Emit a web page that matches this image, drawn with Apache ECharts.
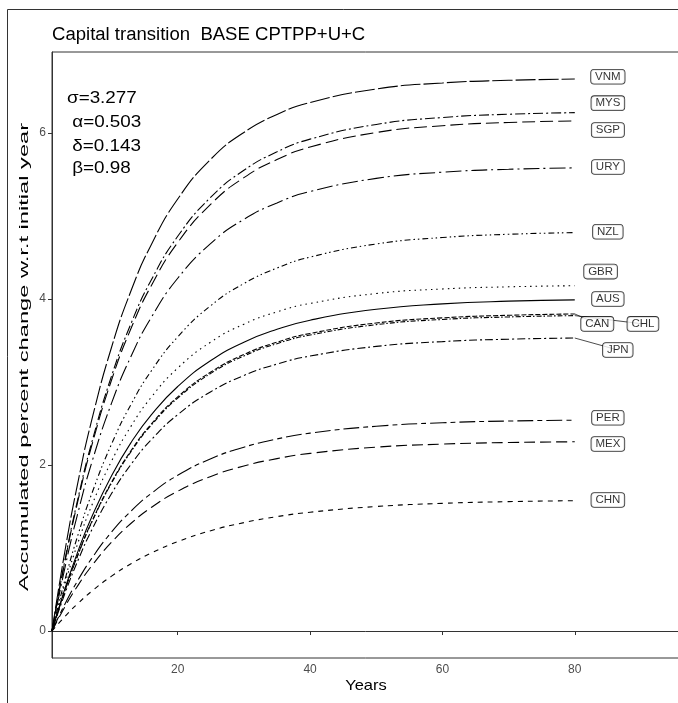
<!DOCTYPE html>
<html><head><meta charset="utf-8">
<script src="https://cdn.jsdelivr.net/npm/echarts@6/dist/echarts.min.js"></script>
<style>html,body{margin:0;padding:0;background:#fff}#c{width:678px;height:703px}</style>
</head><body><div id="c"></div>
<script>
const years = [1,3,5,7,10,13,16,20,25,30,35,40,50,60,70,80];
const countries = ['VNM','MYS','SGP','URY','NZL','GBR','AUS','CAN','CHL','JPN','PER','MEX','CHN'];
const VNM = [0,0.985,1.825,2.540,3.419,4.111,4.655,5.205,5.685,6.007,6.223,6.368,6.530,6.603,6.635,6.65];
const MYS = [0,0.872,1.623,2.269,3.073,3.716,4.229,4.756,5.227,5.551,5.773,5.926,6.103,6.187,6.226,6.245];
const SGP = [0,0.858,1.597,2.233,3.024,3.656,4.161,4.680,5.143,5.462,5.680,5.831,6.006,6.088,6.127,6.145];
const URY = [0,0.780,1.450,2.028,2.746,3.320,3.778,4.250,4.670,4.960,5.158,5.295,5.453,5.528,5.563,5.58];
const NZL = [0,0.629,1.177,1.653,2.252,2.739,3.133,3.544,3.921,4.186,4.373,4.505,4.663,4.741,4.780,4.80];
const GBR = [0,0.581,1.081,1.512,2.047,2.475,2.817,3.168,3.482,3.697,3.845,3.947,4.066,4.121,4.147,4.16];
const AUS = [0,0.523,0.978,1.374,1.872,2.277,2.604,2.946,3.259,3.480,3.635,3.745,3.876,3.941,3.974,3.99];
const CAN = [0,0.501,0.937,1.315,1.792,2.179,2.493,2.821,3.120,3.332,3.480,3.585,3.711,3.773,3.804,3.82];
const CHL = [0,0.498,0.932,1.309,1.783,2.168,2.480,2.806,3.104,3.314,3.462,3.566,3.691,3.754,3.784,3.80];
const JPN = [0,0.463,0.865,1.216,1.656,2.014,2.304,2.607,2.883,3.079,3.216,3.313,3.429,3.487,3.516,3.53];
const PER = [0,0.333,0.623,0.875,1.192,1.449,1.658,1.876,2.075,2.215,2.314,2.384,2.467,2.509,2.530,2.54];
const MEX = [0,0.299,0.559,0.785,1.070,1.301,1.488,1.684,1.862,1.988,2.077,2.140,2.215,2.252,2.271,2.28];
const CHN = [0,0.179,0.338,0.479,0.661,0.813,0.940,1.077,1.209,1.306,1.378,1.431,1.500,1.538,1.559,1.57];
const xTicks = [20,40,60,80];
const yTicks = [0,2,4,6];
const labelX = [85.0,85.0,85.0,85.0,85.0,83.9,85.0,83.4,90.3,86.5,85.0,85.0,85.0];
const labelY = [6.678,6.36,6.036,5.59,4.81,4.33,4.0,3.70,3.70,3.386,2.57,2.253,1.578];
const leaders = ['CAN','CHL','JPN'];
const titleText = 'Capital transition  BASE CPTPP+U+C';
const paramText = ['σ=3.277',' α=0.503',' δ=0.143',' β=0.98'];

const seriesData = {VNM,MYS,SGP,URY,NZL,GBR,AUS,CAN,CHL,JPN,PER,MEX,CHN};
const dash = {
  VNM:[20,3], MYS:[10,3,2,3], SGP:[13,5], URY:[16,4,2,4], NZL:[6,3,1.5,3,1.5,3],
  GBR:[1.5,4], AUS:'solid', CAN:[5,2], CHL:[1.5,2,5,2], JPN:[8,3,2,3],
  PER:[16,4,5,4], MEX:[11,5], CHN:[5,5]
};
const FONT = '"Liberation Sans", Arial, sans-serif';

const series = countries.map(c => ({
  type:'line', name:c, showSymbol:false, smooth:0.5,
  data: years.map((y,i)=>[y, seriesData[c][i]]),
  lineStyle:{color:'#000', width:1.1, type:dash[c]}, silent:true, z:2
}));
series.push({
  type:'lines', coordinateSystem:'cartesian2d', z:3, silent:true,
  lineStyle:{color:'#000', width:0.7, opacity:1},
  data: leaders.map(c => {
    const i = countries.indexOf(c);
    const d = seriesData[c];
    return {coords:[[years[years.length-1], d[d.length-1]],[labelX[i], labelY[i]]]};
  })
});
series.push({
  type:'scatter', z:5, symbolSize:1, silent:true,
  itemStyle:{color:'rgba(0,0,0,0)'},
  data: countries.map((c,i)=>({name:c, value:[labelX[i], labelY[i]]})),
  label:{show:true, position:'inside', formatter:'{b}', color:'#000', fontFamily:FONT,
    fontSize:11.5, backgroundColor:'#fff', borderColor:'#000', borderWidth:0.8,
    borderRadius:3, padding:[1,4,1,4]}
});

const graphic = [
  {type:'rect', shape:{x:7.5, y:9.5, width:800, height:800}, style:{fill:null, stroke:'#333', lineWidth:1}, z:0, silent:true},
  {type:'text', x:52, y:35, scaleX:1.03, style:{text:titleText, font:'18px '+FONT, fill:'#000', textVerticalAlign:'middle'}},
  {type:'text', x:24, y:357, rotation:Math.PI/2, scaleX:1.82, style:{text:'Accumulated percent change w.r.t initial year', font:'13px '+FONT, fill:'#000', textAlign:'center', textVerticalAlign:'middle'}},
  {type:'text', x:366, y:686, scaleX:1.1, style:{text:'Years', font:'15px '+FONT, fill:'#000', textAlign:'center', textVerticalAlign:'middle'}}
];
const pY = [98,122,146,168];
paramText.forEach((t,i)=>graphic.push({type:'text', x:67, y:pY[i], scaleX:1.15, style:{text:t, font:'16.4px '+FONT, fill:'#000', textVerticalAlign:'middle'}}));

const chart = echarts.init(document.getElementById('c'), null, {renderer:'canvas'});
chart.setOption({
  animation:false,
  backgroundColor:'#fff',
  grid:{left:52, top:52, width:628, height:606, show:true, borderColor:'#333', borderWidth:1, backgroundColor:'transparent', outerBoundsMode:'none', containLabel:false},
  xAxis:{type:'value', min:1, max:95.9, splitLine:{show:false},
    axisLine:{lineStyle:{color:'#333', width:1}},
    axisTick:{length:4, lineStyle:{color:'#333'}, customValues:xTicks},
    axisLabel:{color:'#4d4d4d', fontSize:12, fontFamily:FONT, margin:6, customValues:xTicks}},
  yAxis:{type:'value', min:-0.325, max:6.976, splitLine:{show:false},
    axisLine:{show:true, lineStyle:{color:'#333', width:1}},
    axisTick:{show:true, length:4, lineStyle:{color:'#333'}, customValues:yTicks},
    axisLabel:{color:'#4d4d4d', fontSize:12, fontFamily:FONT, margin:6, customValues:yTicks}},
  graphic: graphic,
  series: series
});
</script></body></html>
